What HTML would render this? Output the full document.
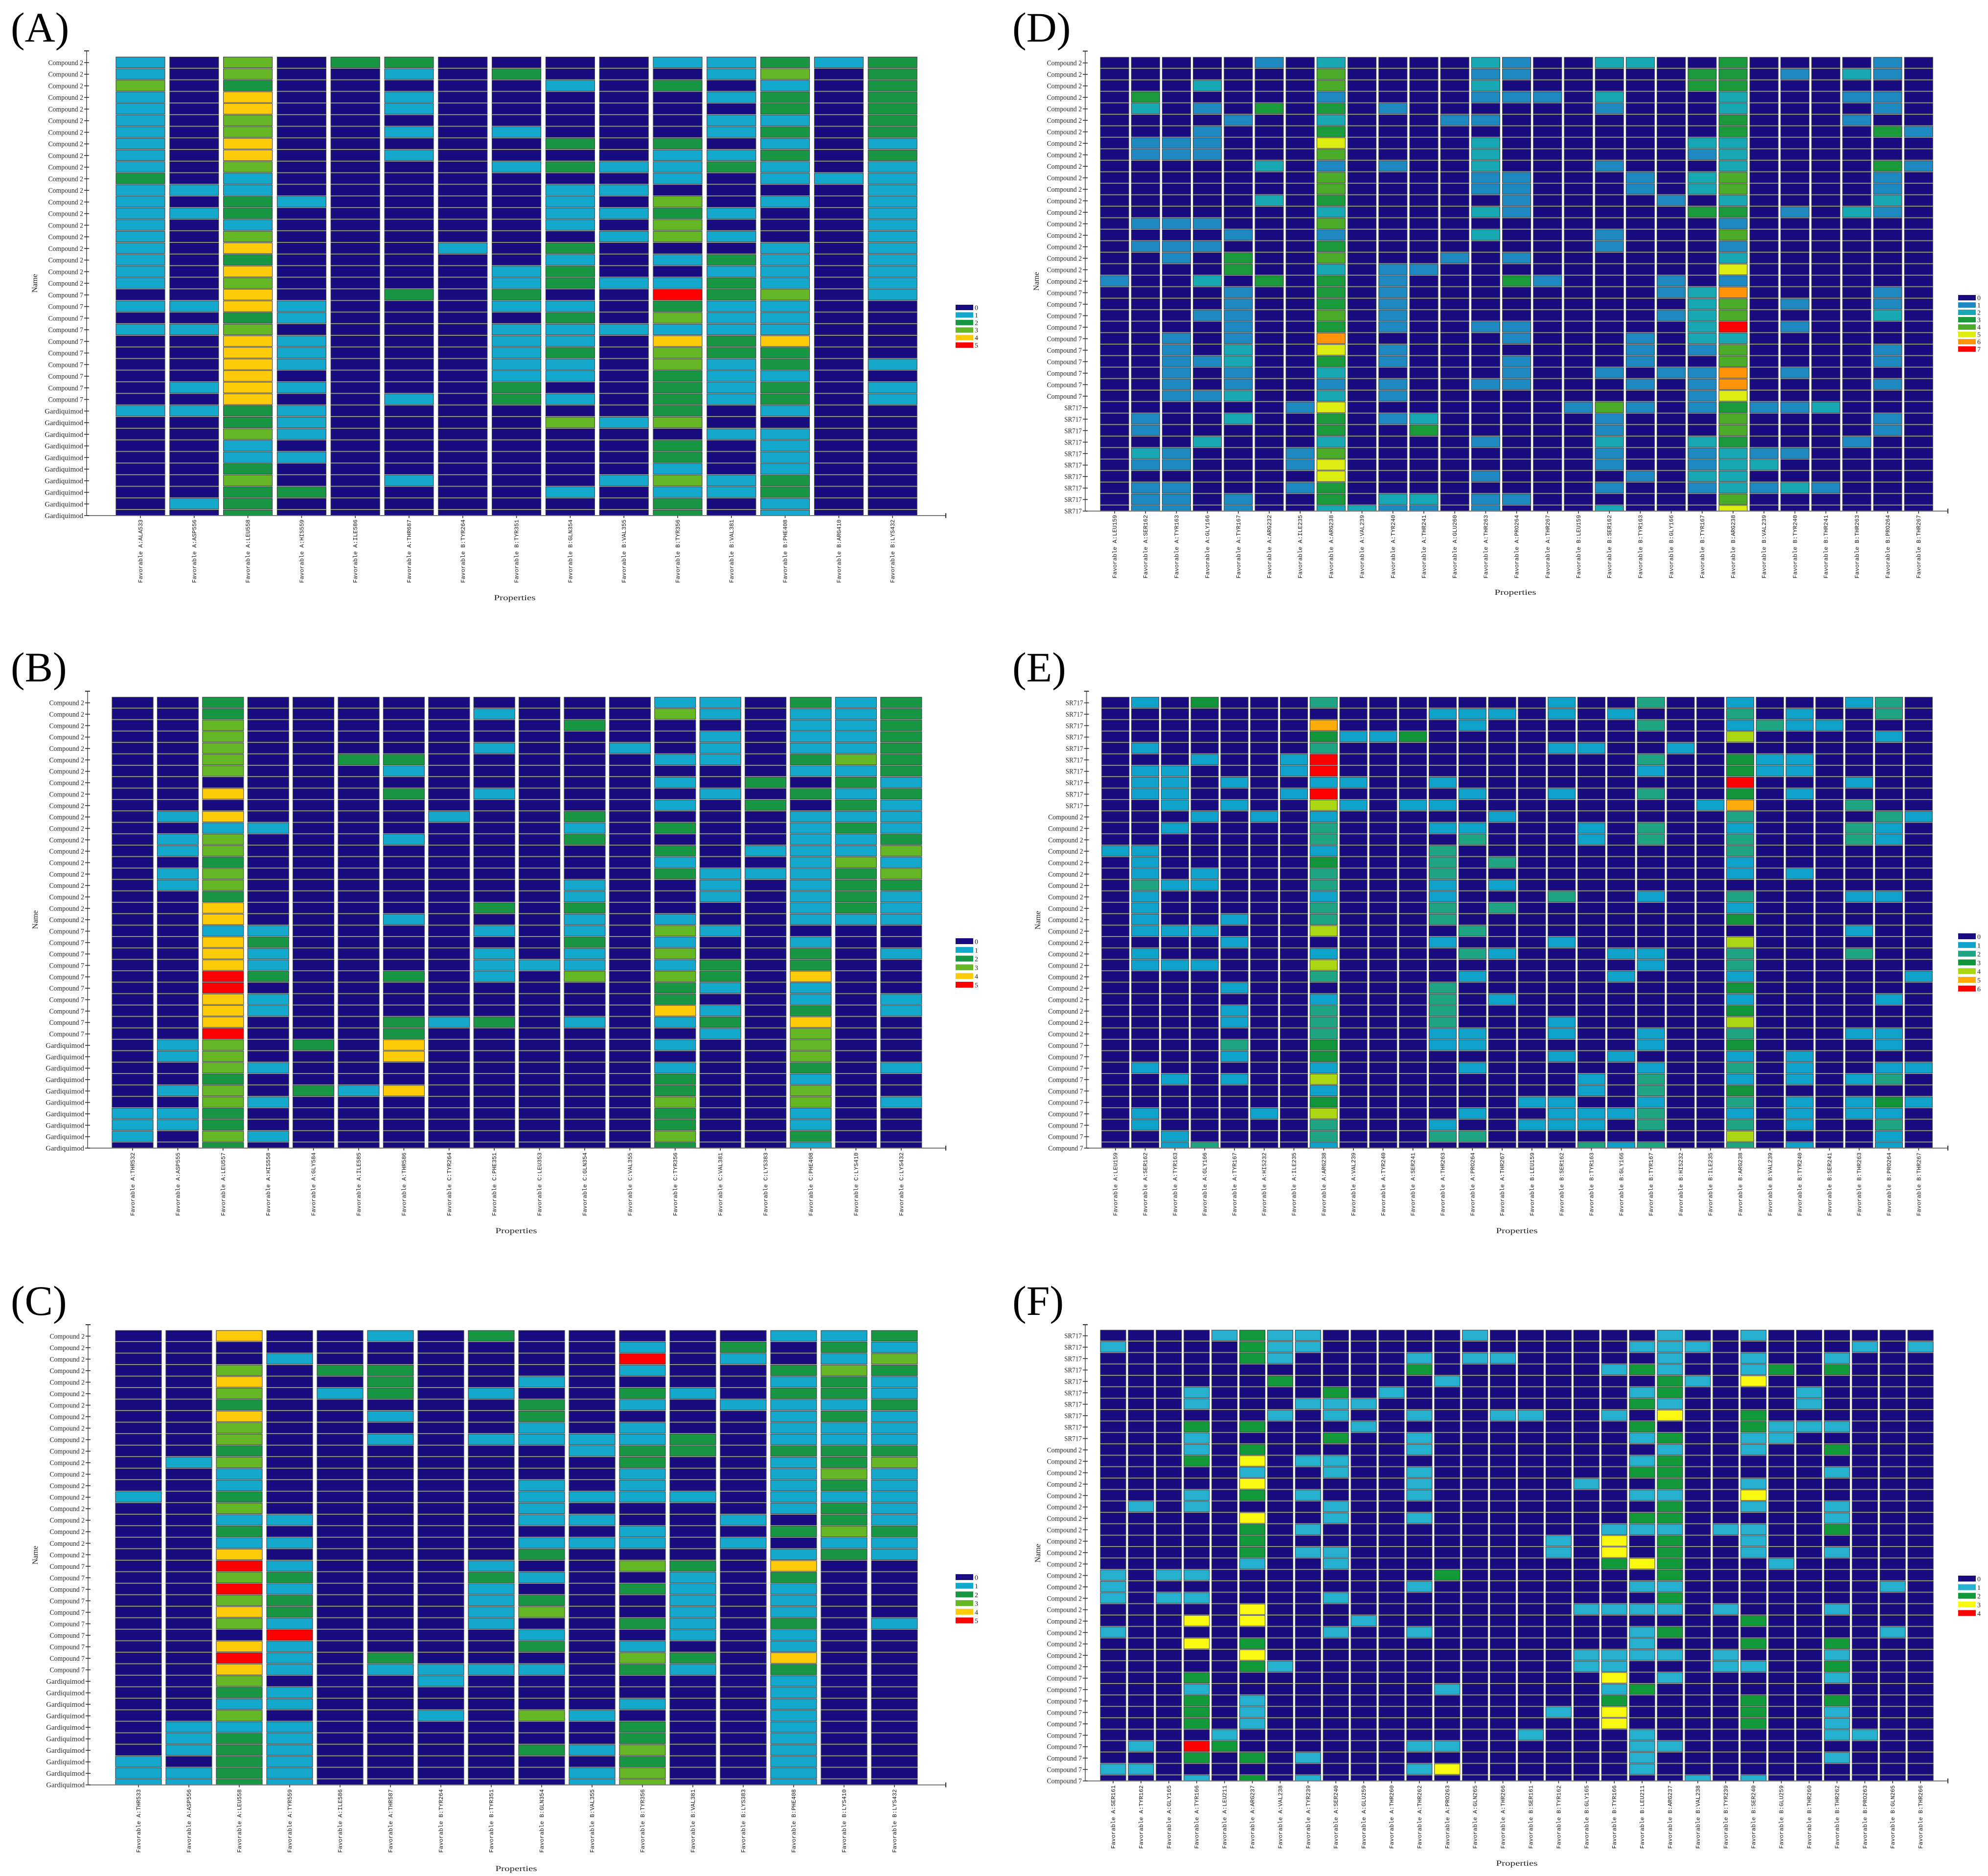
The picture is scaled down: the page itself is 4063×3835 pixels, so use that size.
<!DOCTYPE html>
<html lang="en">
<head>
<meta charset="utf-8">
<title>Interaction fingerprint heatmaps</title>
<style>
html,body{margin:0;padding:0;background:#fff;}
svg{display:block;}
</style>
</head>
<body>
<svg id="figure" xmlns="http://www.w3.org/2000/svg" width="4063" height="3835" viewBox="0 0 4063 3835"></svg>
<script>
const valuesA = [
[1,0,3,0,2,2,0,0,0,0,1,1,2,1,2],
[1,0,3,0,0,1,0,2,0,0,0,1,3,0,2],
[3,0,2,0,0,0,0,0,1,0,2,0,1,0,2],
[1,0,4,0,0,1,0,0,0,0,0,1,2,0,2],
[1,0,4,0,0,1,0,0,0,0,0,0,2,0,2],
[1,0,3,0,0,0,0,0,0,0,0,1,1,0,2],
[1,0,3,0,0,1,0,1,0,0,0,1,2,0,2],
[1,0,4,0,0,0,0,0,2,0,2,0,1,0,1],
[1,0,4,0,0,1,0,0,0,0,1,1,2,0,2],
[1,0,3,0,0,0,0,1,2,1,1,2,1,0,1],
[2,0,1,0,0,0,0,0,0,0,1,0,1,1,1],
[1,1,1,0,0,0,0,0,1,1,0,0,0,0,1],
[1,0,2,1,0,0,0,0,1,0,3,0,1,0,1],
[1,1,2,0,0,0,0,0,1,1,2,1,0,0,1],
[1,0,1,0,0,0,0,0,1,0,3,0,0,0,1],
[1,0,3,0,0,0,0,0,0,1,3,1,0,0,1],
[1,0,4,0,0,0,1,0,2,0,0,0,1,0,1],
[1,0,2,0,0,0,0,0,1,0,1,2,1,0,1],
[1,0,4,0,0,0,0,1,2,0,0,1,1,0,1],
[1,0,3,0,0,0,0,1,2,1,1,2,1,0,1],
[0,0,4,0,0,2,0,2,0,0,5,2,3,0,1],
[1,1,4,1,0,0,0,1,1,0,2,1,1,0,0],
[0,0,2,1,0,0,0,0,2,0,3,1,1,0,0],
[1,1,3,0,0,0,0,1,1,1,1,1,1,0,0],
[0,0,4,1,0,0,0,1,1,0,4,2,4,0,0],
[0,0,4,1,0,0,0,1,2,0,3,2,2,0,0],
[0,0,4,1,0,0,0,1,1,0,3,1,2,0,1],
[0,0,4,0,0,0,0,1,1,0,2,1,1,0,0],
[0,1,4,1,0,0,0,2,0,0,2,1,2,0,1],
[0,0,4,0,0,1,0,2,1,0,2,1,2,0,1],
[1,1,2,1,0,0,0,0,0,0,2,0,1,0,0],
[0,0,2,1,0,0,0,0,3,1,3,0,0,0,0],
[0,0,3,1,0,0,0,0,0,0,0,1,1,0,0],
[0,0,1,0,0,0,0,0,0,0,2,0,1,0,0],
[0,0,1,1,0,0,0,0,0,0,2,0,1,0,0],
[0,0,2,0,0,0,0,0,0,0,1,0,1,0,0],
[0,0,3,0,0,1,0,0,0,1,3,1,2,0,0],
[0,0,2,2,0,0,0,0,1,0,1,1,2,0,0],
[0,1,2,0,0,0,0,0,0,0,2,0,1,0,0],
[0,0,2,0,0,0,0,0,0,0,2,0,1,0,0]
];
const valuesB = [
[0,0,2,0,0,0,0,0,0,0,0,0,1,1,0,2,1,2],
[0,0,2,0,0,0,0,0,1,0,0,0,3,1,0,1,1,2],
[0,0,3,0,0,0,0,0,0,0,2,0,0,0,0,1,1,2],
[0,0,3,0,0,0,0,0,0,0,0,0,0,1,0,1,1,2],
[0,0,3,0,0,0,0,0,1,0,0,1,0,1,0,1,1,2],
[0,0,3,0,0,2,2,0,0,0,0,0,1,1,0,2,3,2],
[0,0,3,0,0,0,1,0,0,0,0,0,0,0,0,1,1,2],
[0,0,0,0,0,0,0,0,0,0,0,0,1,0,2,0,2,1],
[0,0,4,0,0,0,2,0,1,0,0,0,0,1,0,2,1,2],
[0,0,0,0,0,0,0,0,0,0,0,0,1,0,2,0,2,1],
[0,1,4,0,0,0,0,1,0,0,2,0,0,0,0,1,1,1],
[0,0,1,1,0,0,0,0,0,0,1,0,2,0,0,1,2,1],
[0,1,3,0,0,0,1,0,0,0,2,0,0,0,0,1,1,2],
[0,1,3,0,0,0,0,0,0,0,0,0,2,0,1,1,1,3],
[0,0,2,0,0,0,0,0,0,0,0,0,1,0,0,1,3,1],
[0,1,3,0,0,0,0,0,0,0,0,0,2,1,1,1,2,3],
[0,1,3,0,0,0,0,0,0,0,1,0,0,1,0,1,2,2],
[0,0,2,0,0,0,0,0,0,0,1,0,0,1,0,1,2,1],
[0,0,4,0,0,0,0,0,2,0,2,0,0,0,0,1,2,1],
[0,0,4,0,0,0,1,0,0,0,1,0,1,0,0,1,1,1],
[0,0,1,1,0,0,0,0,1,0,1,0,3,1,0,0,0,0],
[0,0,4,2,0,0,0,0,0,0,2,0,1,0,0,1,0,0],
[0,0,4,1,0,0,0,0,1,0,1,0,3,0,0,2,0,1],
[0,0,4,1,0,0,0,0,1,1,1,0,1,2,0,2,0,0],
[0,0,5,2,0,0,2,0,1,0,3,0,3,2,0,4,0,0],
[0,0,5,0,0,0,0,0,0,0,0,0,2,1,0,1,0,0],
[0,0,4,1,0,0,0,0,0,0,0,0,2,0,0,1,0,1],
[0,0,4,1,0,0,0,0,0,0,0,0,4,1,0,2,0,1],
[0,0,4,0,0,0,2,1,2,0,1,0,1,2,0,4,0,0],
[0,0,5,0,0,0,2,0,0,0,0,0,0,1,0,3,0,0],
[0,1,3,0,2,0,4,0,0,0,0,0,1,0,0,3,0,0],
[0,1,3,0,0,0,4,0,0,0,0,0,0,0,0,3,0,0],
[0,0,3,1,0,0,0,0,0,0,0,0,1,0,0,2,0,1],
[0,0,2,0,0,0,0,0,0,0,0,0,2,0,0,1,0,0],
[0,1,3,0,2,1,4,0,0,0,0,0,2,0,0,3,0,0],
[0,0,3,1,0,0,0,0,0,0,0,0,3,0,0,3,0,1],
[1,1,2,0,0,0,0,0,0,0,0,0,2,0,0,1,0,0],
[1,1,2,0,0,0,0,0,0,0,0,0,2,0,0,1,0,0],
[1,0,3,1,0,0,0,0,0,0,0,0,3,0,0,2,0,0],
[0,0,2,0,0,0,0,0,0,0,0,0,2,0,0,1,0,0]
];
const valuesC = [
[0,0,4,0,0,1,0,2,0,0,0,0,0,1,1,2],
[0,0,0,0,0,0,0,0,0,0,1,0,2,0,2,1],
[0,0,0,1,0,0,0,0,0,0,5,0,1,0,1,3],
[0,0,3,0,2,2,0,0,0,0,1,0,0,2,3,2],
[0,0,4,0,0,2,0,0,1,0,0,0,0,1,2,1],
[0,0,3,0,1,2,0,1,0,0,2,1,0,2,2,1],
[0,0,2,0,0,0,0,0,2,0,1,0,1,1,1,2],
[0,0,4,0,0,1,0,0,2,0,0,0,0,1,2,1],
[0,0,3,0,0,0,0,0,1,0,1,0,0,1,1,1],
[0,0,3,0,0,1,0,1,1,1,1,2,0,1,1,1],
[0,0,2,0,0,0,0,0,0,1,2,2,0,2,2,2],
[0,1,3,0,0,0,0,0,0,0,2,0,0,1,2,3],
[0,0,1,0,0,0,0,0,0,0,1,0,0,1,3,1],
[0,0,1,0,0,0,0,0,1,0,1,0,0,1,2,1],
[1,0,2,0,0,0,0,0,1,1,1,1,0,1,1,1],
[0,0,3,0,0,0,0,0,1,0,0,0,0,1,2,1],
[0,0,1,1,0,0,0,0,1,1,0,0,1,0,2,1],
[0,0,2,0,0,0,0,0,0,0,1,0,0,2,3,2],
[0,0,1,1,0,0,0,0,1,1,1,0,1,0,1,1],
[0,0,4,0,0,0,0,0,2,0,0,0,0,1,2,1],
[0,0,5,1,0,0,0,1,0,0,3,2,0,4,0,0],
[0,0,3,2,0,0,0,2,1,0,0,1,0,2,0,0],
[0,0,5,1,0,0,0,1,0,0,2,1,0,1,0,0],
[0,0,3,2,0,0,0,1,2,0,0,1,0,1,0,0],
[0,0,4,2,0,0,0,1,3,0,0,1,0,1,0,0],
[0,0,3,1,0,0,0,1,0,0,2,1,0,2,0,1],
[0,0,0,5,0,0,0,0,1,0,0,1,0,1,0,0],
[0,0,4,1,0,0,0,0,2,0,1,0,0,1,0,0],
[0,0,5,1,0,2,0,0,0,0,3,2,0,4,0,0],
[0,0,4,1,0,1,1,1,1,0,2,1,0,2,0,0],
[0,0,3,0,0,0,1,0,0,0,0,0,0,1,0,0],
[0,0,2,1,0,0,0,0,0,0,0,0,0,1,0,0],
[0,0,1,1,0,0,0,0,0,0,1,0,0,1,0,0],
[0,0,3,0,0,0,1,0,3,1,0,0,0,1,0,0],
[0,1,1,1,0,0,0,0,0,0,2,0,0,1,0,0],
[0,1,2,1,0,0,0,0,0,0,2,0,0,1,0,0],
[0,1,2,1,0,0,0,0,2,1,3,0,0,1,0,0],
[1,0,2,1,0,0,0,0,0,0,2,0,0,1,0,0],
[1,1,2,1,0,0,0,0,0,1,3,0,0,1,0,0],
[1,1,2,1,0,0,0,0,0,1,3,0,0,1,0,0]
];
const valuesD = [
[0,0,0,0,0,1,0,2,0,0,0,0,2,1,0,0,2,2,0,0,3,0,0,0,0,1,0],
[0,0,0,0,0,0,0,4,0,0,0,0,1,1,0,0,0,0,0,3,3,0,1,0,2,1,0],
[0,0,0,2,0,0,0,4,0,0,0,0,2,0,0,0,0,0,0,3,3,0,0,0,0,0,0],
[0,3,0,0,0,0,0,1,0,0,0,0,1,1,1,0,2,0,0,0,2,0,0,0,1,1,0],
[0,2,0,1,0,3,0,3,0,1,0,0,0,0,0,0,1,0,0,0,2,0,0,0,0,1,0],
[0,0,0,0,1,0,0,2,0,0,0,1,1,0,0,0,0,0,0,0,3,0,0,0,1,0,0],
[0,0,0,1,0,0,0,3,0,0,0,0,0,0,0,0,0,0,0,0,3,0,0,0,0,3,1],
[0,1,1,1,0,0,0,5,0,0,0,0,2,0,0,0,0,0,0,2,2,0,0,0,0,0,0],
[0,1,1,1,0,0,0,4,0,0,0,0,2,0,0,0,0,0,0,1,2,0,0,0,0,0,0],
[0,0,0,0,0,2,0,1,0,1,0,0,2,0,0,0,1,0,0,0,2,0,0,0,0,3,1],
[0,0,0,0,0,0,0,4,0,0,0,0,1,1,0,0,0,1,0,2,4,0,0,0,0,1,0],
[0,0,0,0,0,0,0,4,0,0,0,0,1,1,0,0,0,1,0,2,4,0,0,0,0,1,0],
[0,0,0,0,0,2,0,3,0,0,0,0,0,1,0,0,0,0,1,0,2,0,0,0,0,2,0],
[0,0,0,0,0,0,0,2,0,0,0,0,2,1,0,0,0,0,0,3,3,0,1,0,2,1,0],
[0,1,1,1,0,0,0,4,0,0,0,0,0,0,0,0,0,0,0,0,1,0,0,0,0,0,0],
[0,0,0,0,1,0,0,1,0,0,0,0,2,0,0,0,1,0,0,0,4,0,0,0,0,0,0],
[0,1,1,1,0,0,0,3,0,0,0,0,0,0,0,0,1,0,0,0,1,0,0,0,0,0,0],
[0,0,1,0,3,0,0,4,0,0,0,1,0,1,0,0,0,0,0,0,2,0,0,0,0,0,0],
[0,0,0,0,3,0,0,2,0,1,1,0,0,0,0,0,0,0,0,0,5,0,0,0,0,0,0],
[1,0,0,2,0,3,0,3,0,1,0,0,0,3,1,0,0,0,1,0,1,0,0,0,0,0,0],
[0,0,0,0,1,0,0,3,0,1,0,0,0,0,0,0,0,0,1,2,6,0,0,0,0,1,0],
[0,0,0,0,1,0,0,3,0,1,0,0,0,0,0,0,0,0,0,2,4,0,1,0,0,1,0],
[0,0,0,1,1,0,0,4,0,1,0,0,0,0,0,0,0,0,1,2,4,0,0,0,0,2,0],
[0,0,0,0,1,0,0,3,0,1,0,0,1,1,0,0,0,0,0,2,7,0,1,0,0,0,0],
[0,0,1,0,1,0,0,6,0,0,0,0,0,1,0,0,0,1,0,2,2,0,0,0,0,0,0],
[0,0,1,0,2,0,0,5,0,1,0,0,0,0,0,0,0,1,0,1,4,0,0,0,0,1,0],
[0,0,1,1,2,0,0,3,0,1,0,0,0,1,0,0,0,1,0,0,4,0,0,0,0,1,0],
[0,0,1,0,1,0,0,2,0,0,0,0,0,1,0,0,1,0,1,1,6,0,1,0,0,0,0],
[0,0,1,0,1,0,0,1,0,1,0,0,1,1,0,0,0,1,0,1,6,0,0,0,0,1,0],
[0,0,1,1,2,0,0,2,0,1,0,0,0,0,0,0,0,0,0,1,5,0,0,0,0,0,0],
[0,0,0,0,0,0,1,5,0,0,0,0,0,0,0,1,4,1,0,1,3,1,1,2,0,0,0],
[0,1,0,0,2,0,0,3,0,1,2,0,0,0,0,0,1,0,0,0,4,0,0,0,0,1,0],
[0,1,0,0,0,0,0,3,0,0,3,0,0,0,0,0,1,0,0,0,4,0,0,0,0,1,0],
[0,0,0,2,0,0,0,2,0,0,0,0,1,0,0,0,2,0,0,2,3,0,0,0,1,0,0],
[0,2,1,0,0,0,1,4,0,0,0,0,0,0,0,0,1,0,0,1,2,1,1,0,0,0,0],
[0,1,1,0,0,0,1,5,0,0,0,0,0,0,0,0,1,0,0,1,2,2,0,0,0,0,0],
[0,0,0,0,0,0,0,5,0,0,0,0,1,0,0,0,0,1,0,2,2,0,0,0,0,0,0],
[0,1,1,0,0,0,1,3,0,0,0,0,0,0,0,0,1,0,0,1,2,1,2,1,0,0,0],
[0,1,1,0,1,0,0,3,0,2,2,0,1,1,0,0,0,0,0,0,4,0,0,0,0,0,0],
[0,1,1,0,1,0,0,2,2,1,1,0,1,0,0,0,2,0,0,0,5,0,0,0,0,0,0]
];
const valuesE = [
[0,1,0,3,0,0,0,2,0,0,0,0,0,0,0,1,0,0,2,0,0,1,0,0,0,1,2,0],
[0,0,0,0,0,0,0,0,0,0,0,1,1,1,0,1,0,1,0,0,0,2,0,1,0,0,2,0],
[0,0,0,0,0,0,0,5,0,0,0,0,1,0,0,0,0,0,2,0,0,1,2,1,1,0,0,0],
[0,0,0,0,0,0,0,3,1,1,3,0,0,0,0,0,0,0,0,0,0,4,0,0,0,0,1,0],
[0,1,0,0,0,0,0,2,0,0,0,0,0,0,0,1,1,0,0,1,0,0,0,0,0,0,0,0],
[0,0,0,1,0,0,1,6,0,0,0,0,0,0,0,0,0,0,2,0,0,3,1,1,0,0,0,0],
[0,1,1,0,0,0,1,6,0,0,0,0,0,0,0,0,0,0,1,0,0,3,1,1,0,0,0,0],
[0,1,1,0,1,0,0,1,1,0,0,1,0,0,0,0,0,0,0,0,0,6,0,0,0,1,0,0],
[0,1,1,0,0,0,1,6,0,0,0,0,1,0,0,1,0,0,2,0,0,3,0,1,0,0,0,0],
[0,0,1,0,1,0,0,4,1,0,1,1,0,0,0,0,0,0,0,0,1,5,0,0,0,2,0,0],
[0,0,0,1,0,1,0,1,0,0,0,0,0,1,0,0,0,0,0,0,0,2,0,0,0,0,2,1],
[0,0,1,0,0,0,0,2,0,0,0,1,1,0,0,0,1,0,2,0,0,1,0,0,0,2,1,0],
[0,0,0,0,0,0,0,2,0,0,0,0,2,0,0,0,1,0,2,0,0,2,0,0,0,2,1,0],
[1,1,0,0,0,0,0,1,0,0,0,2,0,0,0,0,0,0,0,0,0,2,0,0,0,0,0,0],
[0,1,0,0,0,0,0,3,0,0,0,2,0,2,0,0,0,0,0,0,0,1,0,0,0,0,0,0],
[0,1,0,1,0,0,0,2,0,0,0,2,0,0,0,0,0,0,0,0,0,1,0,1,0,0,0,0],
[0,2,1,1,0,0,0,2,0,0,0,1,0,1,0,0,0,0,0,0,0,0,0,0,0,0,0,0],
[0,1,0,0,0,0,0,1,0,0,0,1,0,0,0,2,0,0,1,0,0,2,0,0,0,1,1,0],
[0,1,0,0,0,0,0,2,0,0,0,2,0,2,0,0,0,0,0,0,0,1,0,0,0,0,0,0],
[0,1,0,0,1,0,0,2,0,0,0,2,0,0,0,0,0,0,0,0,0,3,0,0,0,0,0,0],
[0,1,1,1,0,0,0,4,0,0,0,0,2,0,0,0,0,0,0,0,0,0,0,0,0,1,0,0],
[0,0,0,0,1,0,0,0,0,0,0,1,0,0,0,1,0,0,0,0,0,4,0,0,0,0,0,0],
[0,1,0,0,0,0,0,1,0,0,0,0,2,1,0,0,0,1,1,0,0,2,0,0,0,2,0,0],
[0,1,1,1,0,0,0,4,0,0,0,0,0,0,0,0,0,0,1,0,0,2,0,0,0,0,0,0],
[0,0,0,0,0,0,0,2,0,0,0,0,1,0,0,0,0,1,0,0,0,1,0,0,0,0,0,1],
[0,0,0,0,1,0,0,0,0,0,0,2,0,0,0,0,0,0,0,0,0,3,0,0,0,0,0,0],
[0,0,0,0,0,0,0,1,0,0,0,2,0,1,0,0,0,0,0,0,0,1,0,0,0,0,1,0],
[0,0,0,0,1,0,0,2,0,0,0,2,0,0,0,0,0,0,0,0,0,3,0,0,0,0,0,0],
[0,0,0,0,1,0,0,2,0,0,0,2,0,0,0,1,0,0,0,0,0,4,0,0,0,0,0,0],
[0,0,0,0,0,0,0,2,0,0,0,1,1,0,0,1,0,0,1,0,0,2,0,0,0,1,1,0],
[0,0,0,0,2,0,0,3,0,0,0,1,1,0,0,0,0,0,1,0,0,3,0,0,0,0,1,0],
[0,0,0,0,1,0,0,3,0,0,0,0,0,0,0,1,0,1,0,0,0,1,0,1,0,0,0,0],
[0,1,0,0,0,0,0,1,0,0,0,0,1,0,0,0,0,0,1,0,0,2,0,1,0,0,1,1],
[0,0,1,0,1,0,0,4,0,0,0,0,0,0,0,0,1,0,2,0,0,1,0,1,0,1,2,0],
[0,0,0,0,0,0,0,1,0,0,0,0,0,0,0,0,1,0,2,0,0,3,0,0,0,0,0,0],
[0,0,0,0,0,0,0,3,0,0,0,0,0,0,1,1,0,0,1,0,0,2,0,1,0,1,3,1],
[0,1,0,0,0,1,0,4,0,0,0,0,1,0,0,1,1,1,2,0,0,1,0,1,0,1,1,0],
[0,1,0,0,0,0,0,2,0,0,0,1,0,0,1,1,1,0,2,0,0,2,0,1,0,0,2,0],
[0,0,1,0,0,0,0,2,0,0,0,2,2,0,0,0,0,0,0,0,0,4,0,0,0,0,1,0],
[0,0,1,2,0,0,0,1,0,0,0,0,0,0,0,0,2,1,2,0,0,2,0,1,0,0,1,0]
];
const valuesF = [
[0,0,0,0,1,2,1,1,0,0,0,0,0,1,0,0,0,0,0,0,1,0,0,1,0,0,0,0,0,0],
[1,0,0,0,0,2,1,1,0,0,0,0,0,0,0,0,0,0,0,1,1,1,0,0,0,0,0,1,0,1],
[0,0,0,0,0,2,1,0,0,0,0,1,0,1,1,0,0,0,0,0,1,0,0,1,0,0,1,0,0,0],
[0,0,0,0,0,0,0,0,0,0,0,2,0,0,0,0,0,0,1,2,1,0,0,1,2,0,2,0,0,0],
[0,0,0,0,0,0,2,0,0,0,0,0,1,0,0,0,0,0,0,0,2,1,0,3,0,0,0,0,0,0],
[0,0,0,1,0,0,0,0,2,0,1,0,0,0,0,0,0,0,0,1,2,0,0,0,0,1,0,0,0,0],
[0,0,0,1,0,0,0,1,1,1,0,0,0,0,0,0,0,0,0,2,1,0,0,0,0,1,0,0,0,0],
[0,0,0,0,0,0,1,0,1,0,0,1,0,0,1,1,0,0,1,0,3,0,0,2,0,0,0,0,0,0],
[0,0,0,2,0,2,0,0,0,1,0,0,0,0,0,0,0,0,0,2,0,0,0,2,1,1,1,0,0,0],
[0,0,0,1,0,0,0,0,2,0,0,1,0,0,0,0,0,0,0,1,2,0,0,1,1,0,0,0,0,0],
[0,0,0,1,0,2,0,0,0,0,0,1,0,0,0,0,0,0,0,0,1,0,0,1,0,0,2,0,0,0],
[0,0,0,2,0,3,0,1,1,0,0,0,0,0,0,0,0,0,0,1,2,0,0,0,0,0,0,0,0,0],
[0,0,0,0,0,1,0,0,1,0,0,1,0,0,0,0,0,0,0,2,2,0,0,0,0,0,1,0,0,0],
[0,0,0,0,0,3,0,0,0,0,0,1,0,0,0,0,0,1,0,0,2,0,0,1,0,0,0,0,0,0],
[0,0,0,1,0,2,0,1,0,0,0,1,0,0,0,0,0,0,0,1,1,0,0,3,0,0,0,0,0,0],
[0,1,0,1,0,0,0,0,1,0,0,0,0,0,0,0,0,0,0,0,2,0,0,1,0,0,1,0,0,0],
[0,0,0,0,0,3,0,0,1,0,0,1,0,0,0,0,0,0,0,2,2,0,0,0,0,0,1,0,0,0],
[0,0,0,0,0,2,0,1,0,0,0,0,0,0,0,0,0,0,1,1,1,0,1,1,0,0,2,0,0,0],
[0,0,0,0,0,2,0,0,0,0,0,0,0,0,0,0,1,0,3,0,2,0,0,1,0,0,0,0,0,0],
[0,0,0,0,0,2,0,1,1,0,0,0,0,0,0,0,1,0,3,0,2,0,0,1,0,0,1,0,0,0],
[0,0,0,0,0,1,0,0,1,0,0,0,0,0,0,0,0,0,2,3,2,0,0,0,1,0,0,0,0,0],
[1,0,1,1,0,0,0,0,0,0,0,0,2,0,0,0,0,0,0,0,2,0,0,0,0,0,0,0,0,0],
[1,0,0,0,0,0,0,0,0,0,0,1,0,0,0,0,0,0,0,1,1,0,0,0,0,0,0,0,1,0],
[1,0,1,1,0,0,0,0,1,0,0,0,0,0,0,0,0,0,0,0,2,0,0,0,0,0,0,0,0,0],
[0,0,0,0,0,3,0,0,0,0,0,0,0,0,0,0,0,1,1,1,1,0,1,0,0,0,1,0,0,0],
[0,0,0,3,0,3,0,0,0,1,0,0,0,0,0,0,0,0,0,0,0,0,0,2,0,0,0,0,0,0],
[1,0,0,0,0,0,0,0,1,0,0,1,0,0,0,0,0,0,0,1,2,0,0,0,0,0,0,0,1,0],
[0,0,0,3,0,2,0,0,0,0,0,0,0,0,0,0,0,0,0,1,0,0,0,2,0,0,2,0,0,0],
[0,0,0,0,0,3,0,0,0,0,0,0,0,0,0,0,0,1,1,1,1,0,1,0,0,0,1,0,0,0],
[0,0,0,0,0,2,1,0,0,0,0,0,0,0,0,0,0,1,1,0,0,0,1,1,0,0,2,0,0,0],
[0,0,0,2,0,0,0,0,0,0,0,0,0,0,0,0,0,0,3,0,1,0,0,0,0,0,1,0,0,0],
[0,0,0,1,0,0,0,0,0,0,0,0,1,0,0,0,0,0,1,2,0,0,0,0,0,0,0,0,0,0],
[0,0,0,2,0,1,0,0,0,0,0,0,0,0,0,0,0,0,2,0,0,0,0,2,0,0,2,0,0,0],
[0,0,0,2,0,1,0,0,0,0,0,0,0,0,0,0,1,0,3,0,0,0,0,2,0,0,1,0,0,0],
[0,0,0,2,0,1,0,0,0,0,0,0,0,0,0,0,0,0,3,0,0,0,0,2,0,0,1,0,0,0],
[0,0,0,0,1,0,0,0,0,0,0,0,0,0,0,1,0,0,0,1,0,0,0,0,0,0,1,1,0,0],
[0,1,0,4,2,0,0,0,0,0,0,1,1,0,0,0,0,0,0,1,1,0,0,0,0,0,0,0,0,0],
[0,0,0,2,0,2,0,1,0,0,0,0,0,0,0,0,0,0,0,1,0,0,0,0,0,0,1,0,0,0],
[1,1,0,0,0,0,0,0,0,0,0,1,3,0,0,0,0,0,0,1,0,0,0,0,0,0,0,0,0,0],
[0,0,0,1,0,2,0,1,0,0,0,0,0,0,0,0,0,0,0,0,0,1,0,1,0,0,0,0,0,0]
];

const columnsA = ["Favorable A:ALA533","Favorable A:ASP556","Favorable A:LEU558","Favorable A:HIS559","Favorable A:ILE586","Favorable A:THR687","Favorable B:TYR264","Favorable B:TYR351","Favorable B:GLN354","Favorable B:VAL355","Favorable B:TYR356","Favorable B:VAL381","Favorable B:PHE408","Favorable B:ARG410","Favorable B:LYS432"];
const columnsB = ["Favorable A:THR532","Favorable A:ASP555","Favorable A:LEU557","Favorable A:HIS558","Favorable A:GLY584","Favorable A:ILE585","Favorable A:THR586","Favorable C:TYR264","Favorable C:PHE351","Favorable C:LEU353","Favorable C:GLN354","Favorable C:VAL355","Favorable C:TYR356","Favorable C:VAL381","Favorable C:LYS383","Favorable C:PHE408","Favorable C:LYS410","Favorable C:LYS432"];
const columnsC = ["Favorable A:THR533","Favorable A:ASP556","Favorable A:LEU558","Favorable A:TYR559","Favorable A:ILE586","Favorable A:THR587","Favorable B:TYR264","Favorable B:TYR351","Favorable B:GLN354","Favorable B:VAL355","Favorable B:TYR356","Favorable B:VAL381","Favorable B:LYS383","Favorable B:PHE408","Favorable B:LYS410","Favorable B:LYS432"];
const columnsD = ["Favorable A:LEU159","Favorable A:SER162","Favorable A:TYR163","Favorable A:GLY166","Favorable A:TYR167","Favorable A:ARG232","Favorable A:ILE235","Favorable A:ARG238","Favorable A:VAL239","Favorable A:TYR240","Favorable A:THR241","Favorable A:GLU260","Favorable A:THR263","Favorable A:PRO264","Favorable A:THR267","Favorable B:LEU159","Favorable B:SER162","Favorable B:TYR163","Favorable B:GLY166","Favorable B:TYR167","Favorable B:ARG238","Favorable B:VAL239","Favorable B:TYR240","Favorable B:THR241","Favorable B:THR263","Favorable B:PRO264","Favorable B:THR267"];
const columnsE = ["Favorable A:LEU159","Favorable A:SER162","Favorable A:TYR163","Favorable A:GLY166","Favorable A:TYR167","Favorable A:HIS232","Favorable A:ILE235","Favorable A:ARG238","Favorable A:VAL239","Favorable A:TYR240","Favorable A:SER241","Favorable A:THR263","Favorable A:PRO264","Favorable A:THR267","Favorable B:LEU159","Favorable B:SER162","Favorable B:TYR163","Favorable B:GLY166","Favorable B:TYR167","Favorable B:HIS232","Favorable B:ILE235","Favorable B:ARG238","Favorable B:VAL239","Favorable B:TYR240","Favorable B:SER241","Favorable B:THR263","Favorable B:PRO264","Favorable B:THR267"];
const columnsF = ["Favorable A:SER161","Favorable A:TYR162","Favorable A:GLY165","Favorable A:TYR166","Favorable A:LEU211","Favorable A:ARG237","Favorable A:VAL238","Favorable A:TYR239","Favorable A:SER240","Favorable A:GLU259","Favorable A:THR260","Favorable A:THR262","Favorable A:PRO263","Favorable A:GLN265","Favorable A:THR266","Favorable B:SER161","Favorable B:TYR162","Favorable B:GLY165","Favorable B:TYR166","Favorable B:LEU211","Favorable B:ARG237","Favorable B:VAL238","Favorable B:TYR239","Favorable B:SER240","Favorable B:GLU259","Favorable B:THR260","Favorable B:THR262","Favorable B:PRO263","Favorable B:GLN265","Favorable B:THR266"];

const labelsCompound2 = ["Compound 2","Compound 2","Compound 2","Compound 2","Compound 2","Compound 2","Compound 2","Compound 2","Compound 2","Compound 2","Compound 2","Compound 2","Compound 2","Compound 2","Compound 2","Compound 2","Compound 2","Compound 2","Compound 2","Compound 2"];
const labelsCompound7 = ["Compound 7","Compound 7","Compound 7","Compound 7","Compound 7","Compound 7","Compound 7","Compound 7","Compound 7","Compound 7"];
const labelsGardiquimod = ["Gardiquimod","Gardiquimod","Gardiquimod","Gardiquimod","Gardiquimod","Gardiquimod","Gardiquimod","Gardiquimod","Gardiquimod","Gardiquimod"];
const labelsSR717 = ["SR717","SR717","SR717","SR717","SR717","SR717","SR717","SR717","SR717","SR717"];

const rowsABC = labelsCompound2.concat(labelsCompound7, labelsGardiquimod);
const rowsD = labelsCompound2.concat(labelsCompound7, labelsSR717);
const rowsEF = labelsSR717.concat(labelsCompound2, labelsCompound7);

const colorsSix = ["#190c80","#13a8cc","#189644","#66b726","#fecb0a","#ff0000"];
const colorsD = ["#190c80","#1e88c0","#18a8b4","#1a9a3a","#4cab28","#dced12","#ff9408","#ff0000"];
const colorsE = ["#190c80","#0fa3cc","#1fa584","#11943a","#aad614","#ffac0a","#ff0000"];
const colorsF = ["#190c80","#26b0d0","#129a3a","#f8f811","#ff0000"];

const panels = [
 {id:"a",letter:"(A)",letterX:22,letterY:85,values:valuesA,columns:columnsA,rows:rowsABC,colors:colorsSix,axisX:177,axisY:1054,topY:104,endX:1933,firstTick:128,col0:237,colPitch:109.8,colW:100,labelGap:8,nameX:71,nameY:579,propX:1052,propY:1227,legX:1953,legY:623,legPitch:15.4,legH:11},
 {id:"b",letter:"(B)",letterX:22,letterY:1393,values:valuesB,columns:columnsB,rows:rowsABC,colors:colorsSix,axisX:179,axisY:2347,topY:1413,endX:1933,firstTick:1436.7,col0:229,colPitch:92.4,colW:84,labelGap:9,nameX:72,nameY:1880,propX:1055,propY:2521,legX:1953,legY:1918,legPitch:17.8,legH:12},
 {id:"c",letter:"(C)",letterX:22,letterY:2688,values:valuesC,columns:columnsC,rows:rowsABC,colors:colorsSix,axisX:180,axisY:3648.7,topY:2708,endX:1933,firstTick:2731.4,col0:236,colPitch:103,colW:94,labelGap:9,nameX:72,nameY:3179,propX:1055,propY:3825,legX:1953,legY:3218,legPitch:17.7,legH:12},
 {id:"d",letter:"(D)",letterX:2069,letterY:85,values:valuesD,columns:columnsD,rows:rowsD,colors:colorsD,axisX:2218,axisY:1044.7,topY:104.5,endX:3981,firstTick:128.6,col0:2249,colPitch:63.2,colW:58,labelGap:8,nameX:2118,nameY:575,propX:3097,propY:1216,legX:4002,legY:603,legPitch:15,legH:11},
 {id:"e",letter:"(E)",letterX:2069,letterY:1393,values:valuesE,columns:columnsE,rows:rowsEF,colors:colorsE,axisX:2220.6,axisY:2347,topY:1413,endX:3981,firstTick:1436.7,col0:2251.7,colPitch:60.8,colW:56,labelGap:9,nameX:2121,nameY:1881,propX:3100,propY:2521,legX:4002,legY:1908,legPitch:17.8,legH:12},
 {id:"f",letter:"(F)",letterX:2069,letterY:2688,values:valuesF,columns:columnsF,rows:rowsEF,colors:colorsF,axisX:2218,axisY:3640.6,topY:2708,endX:3981,firstTick:2730.6,col0:2249,colPitch:56.9,colW:52,labelGap:9,nameX:2121,nameY:3175,propX:3100,propY:3814,legX:4002,legY:3221,legPitch:17.6,legH:12}
];

const SVG_NS = "http://www.w3.org/2000/svg";
const svg = document.getElementById("figure");

function make(parent, tag, attrs, text) {
  const el = document.createElementNS(SVG_NS, tag);
  for (const key in attrs) { el.setAttribute(key, attrs[key]); }
  if (text !== undefined) { el.textContent = text; }
  parent.appendChild(el);
  return el;
}

function columnScale(panel) {
  return function (index) { return panel.col0 + index * panel.colPitch; };
}
function rowScale(panel) {
  const pitch = (panel.axisY - panel.firstTick) / (panel.rows.length - 1);
  return function (index) { return panel.firstTick + index * pitch; };
}

panels.forEach(function (panel) {
  const x = columnScale(panel);
  const y = rowScale(panel);
  const pitch = y(1) - y(0);

  const group = make(svg, "g", {});
  
  

  const letter = make(group, "text", {x: panel.letterX, y: panel.letterY, "font-family": '"Liberation Serif", serif', "font-size": 86, fill: "#000"}, panel.letter);
  
  

  panel.values.forEach(function (row, r) {
    row.forEach(function (value, c) {
      const top = y(r) - 11.5;
      const height = Math.min(pitch - 1.8, panel.axisY - top);
      const cell = make(group, "rect", {x: x(c), y: top, width: panel.colW, height: height, fill: panel.colors[value], stroke: "#3c3c3c", "stroke-width": 1.1});
      
      
    });
  });

  const yAxis = make(group, "line", {x1: panel.axisX, y1: panel.topY, x2: panel.axisX, y2: panel.axisY, stroke: "#777", "stroke-width": 2});
  
  

  const xAxis = make(group, "line", {x1: panel.axisX, y1: panel.axisY, x2: panel.endX, y2: panel.axisY, stroke: "#777", "stroke-width": 2});
  
  

  const topTick = make(group, "line", {x1: panel.axisX - 5, y1: panel.topY, x2: panel.axisX + 5, y2: panel.topY, stroke: "#333", "stroke-width": 2});
  
  

  const endTick = make(group, "line", {x1: panel.endX, y1: panel.axisY - 5, x2: panel.endX, y2: panel.axisY + 5, stroke: "#333", "stroke-width": 2});
  
  

  panel.rows.forEach(function (label, r) {
    const tick = make(group, "line", {x1: panel.axisX - 5, y1: y(r), x2: panel.axisX + 5, y2: y(r), stroke: "#333", "stroke-width": 1.6});
    
    

    const tickLabel = make(group, "text", {x: panel.axisX - 7, y: y(r) + 5, "text-anchor": "end", "font-family": '"Liberation Serif", serif', "font-size": 15, fill: "#2a2a2a", textLength: label.length * 7.15, lengthAdjust: "spacingAndGlyphs"}, label);
    
    
  });

  panel.columns.forEach(function (label, c) {
    const cx = x(c) + panel.colW / 2;
    const tick = make(group, "line", {x1: cx, y1: panel.axisY, x2: cx, y2: panel.axisY + 5, stroke: "#333", "stroke-width": 1.6});
    
    

    const ty = panel.axisY + panel.labelGap;
    const tickLabel = make(group, "text", {x: cx + 4, y: ty, transform: "rotate(-90 " + (cx + 4) + " " + ty + ")", "text-anchor": "end", "font-family": '"Liberation Mono", monospace', "font-size": 12, fill: "#1a1a1a"}, label);
    
    
  });

  const nameTitle = make(group, "text", {x: panel.nameX + 5, y: panel.nameY, transform: "rotate(-90 " + (panel.nameX + 5) + " " + panel.nameY + ")", "text-anchor": "middle", "font-family": '"Liberation Serif", serif', "font-size": 16, fill: "#222"}, "Name");
  
  

  const propTitle = make(group, "text", {x: panel.propX, y: panel.propY, "text-anchor": "middle", "font-family": '"Liberation Serif", serif', "font-size": 16, fill: "#222", textLength: 85, lengthAdjust: "spacingAndGlyphs"}, "Properties");
  
  

  panel.colors.forEach(function (color, i) {
    const ly = panel.legY + i * panel.legPitch;
    const swatch = make(group, "rect", {x: panel.legX, y: ly, width: 36, height: panel.legH, fill: color});
    
    

    const legendLabel = make(group, "text", {x: panel.legX + 39, y: ly + panel.legH - 0.5, "font-family": '"Liberation Serif", serif', "font-size": 14, fill: "#222"}, String(i));
    
    
  });
});
</script>
</body>
</html>
